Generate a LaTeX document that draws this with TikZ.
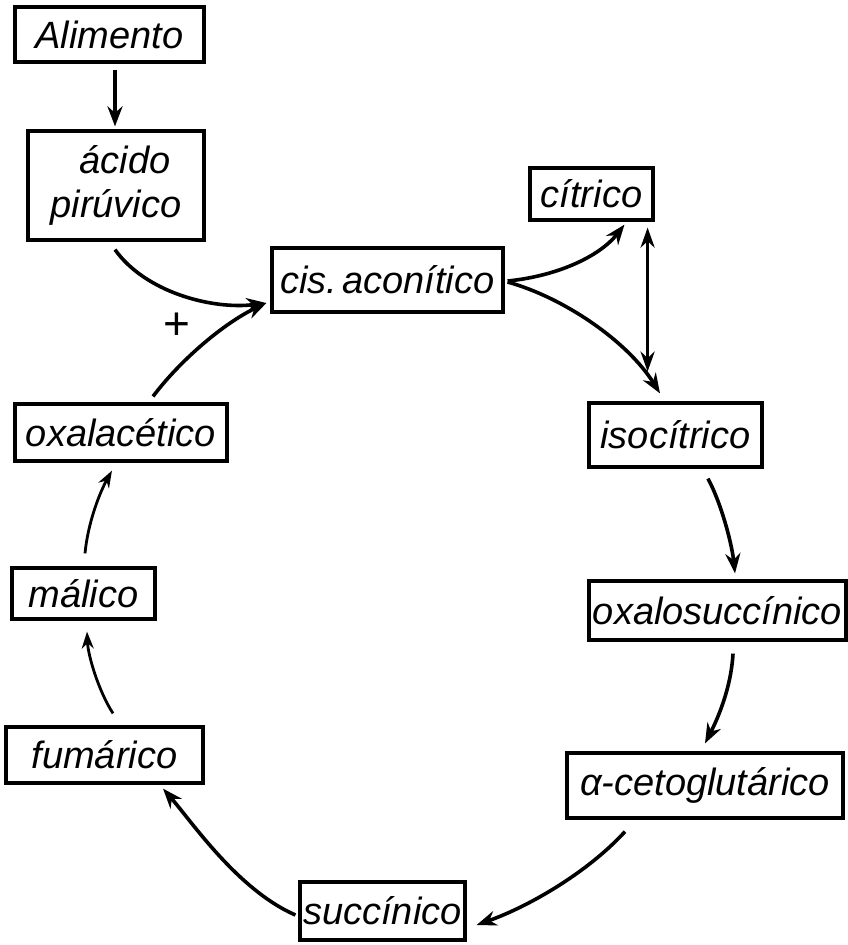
\documentclass[tikz,border=0pt]{standalone}
\usepackage{fontspec}
\setmainfont{Liberation Sans}
\usetikzlibrary{arrows.meta,calc}
\tikzset{
  box/.style={draw, line width=3.2pt, inner sep=0pt, align=center,
    font=\fontsize{38}{44}\selectfont\itshape},
  arr/.style={line width=3.6pt, -{Stealth[length=20pt,width=15pt]}},
  darr/.style={line width=3.6pt, {Stealth[length=20pt,width=14pt]}-{Stealth[length=20pt,width=14pt]}},
  thinarr/.style={line width=2.8pt, -{Stealth[length=17pt,width=12pt]}}
}
\begin{document}
\begin{tikzpicture}[x=1pt,y=-1pt]
\useasboundingbox (0,0) rectangle (847,945);
\node[box, minimum width=189pt, minimum height=55pt] (alim) at (109.5,34.5) {Alimento};
\node[box, minimum width=176pt, minimum height=109pt] (pir) at (116,185.5) {\hspace*{18pt}ácido\\pirúvico};
\node[box, minimum width=231pt, minimum height=64pt] (cis) at (387.5,280) {cis.\hspace{5pt}aconítico};
\node[box, minimum width=123pt, minimum height=52pt] (cit) at (591.5,194) {cítrico};
\node[box, minimum width=173pt, minimum height=64pt] (iso) at (675.5,435) {isocítrico};
\node[box, minimum width=257pt, minimum height=59pt] (oxs) at (717.5,610.5) {oxalosuccínico};
\node[box, minimum width=276pt, minimum height=65pt] (ceto) at (705,785.5) {α-cetoglutárico};
\node[box, minimum width=165pt, minimum height=58pt] (succ) at (382.5,911) {succínico};
\node[box, minimum width=197pt, minimum height=56pt] (fum) at (104.5,755) {fumárico};
\node[box, minimum width=143pt, minimum height=51pt] (mal) at (83.5,593.5) {málico};
\node[box, minimum width=212pt, minimum height=57pt] (oxa) at (121,432.5) {oxalacético};
\node[font=\fontsize{46}{50}\selectfont] (plus) at (177,326) {+};

\draw[arr] ($(alim.south)+(5.5,6)$) -- ($(pir.north)+(-1,-3)$);
\draw[arr] ($(pir.south)+(-1,8)$) .. controls (145,292) and (212,310) .. ($(cis.west)+(-4,23)$);
\draw[arr] ($(oxa.north)+(32,-6)$) .. controls (182,358) and (226,322) .. ($(cis.west)+(-4,23)$);
\draw[arr] ($(cis.east)+(3,1)$) .. controls (558,276) and (600,256) .. ($(cit.south)+(33,3)$);
\draw[arr] ($(cis.east)+(3,2)$) .. controls (565,298) and (628,342) .. ($(iso.north)+(-15.5,-8)$);
\draw[darr] ($(cit.south east)+(-7,6)$) -- ($(cit.south east)+(-7,150)$);
\draw[arr] ($(iso.south)+(32.5,10)$) .. controls (722,505) and (732,545) .. ($(oxs.north)+(17.5,-6)$);
\draw[arr] ($(oxs.south)+(15.5,12)$) .. controls (731,690) and (716,722) .. ($(ceto.north)+(0,-8)$);
\draw[arr] ($(ceto.south)+(-80,12)$) .. controls (588,872) and (530,906) .. ($(succ.east)+(10,14)$);
\draw[arr] ($(succ.west)+(-3,4)$) .. controls (238,890) and (192,822) .. ($(fum.south)+(58.5,4)$);
\draw[thinarr] ($(fum.north)+(8.5,-12)$) .. controls (98,690) and (88,655) .. ($(mal.south)+(3.5,11)$);
\draw[thinarr] ($(mal.north)+(1.5,-13)$) .. controls (88,522) and (100,492) .. ($(oxa.south)+(-9,8)$);
\end{tikzpicture}
\end{document}
